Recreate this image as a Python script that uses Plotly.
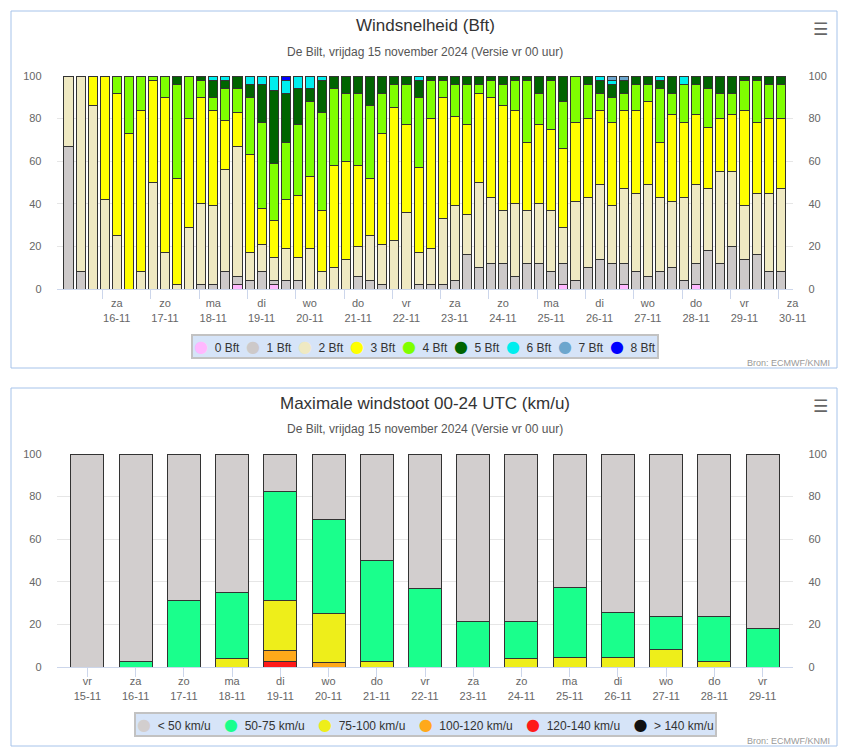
import pandas as pd
import plotly.graph_objects as go

# Pixel canvas of the page
W, H = 844, 753
FONT = "Liberation Sans, Arial, sans-serif"


def fx(px):
    return px / W


def fy(py):
    return 1 - py / H


def esc(s):
    return s.replace("<", "&lt;").replace(">", "&gt;")


# ---- Windsnelheid (Bft): ensemble kansen per 6 uur (%) ----
bar_times = pd.date_range("2024-11-15 07:00", periods=60, freq="6h")

bft_names = ["0 Bft", "1 Bft", "2 Bft", "3 Bft", "4 Bft", "5 Bft", "6 Bft", "7 Bft", "8 Bft"]
bft_colors = ["#ffb8ff", "#cdc9c9", "#efe9c2", "#ffff00", "#7fff00", "#006400", "#00eeee", "#6ca6cd", "#0000ff"]

bft0 = [0, 0, 0, 0, 0, 0, 0, 0, 0, 0, 0, 0, 0, 0, 2, 0, 0, 2, 0, 0,
        0, 0, 0, 0, 0, 0, 0, 0, 0, 0, 0, 0, 0, 0, 0, 0, 0, 0, 0, 0,
        0, 2, 0, 0, 0, 0, 2, 0, 0, 0, 0, 0, 2, 0, 0, 0, 0, 0, 0, 0]
bft1 = [67, 8, 0, 0, 0, 0, 0, 0, 0, 0, 0, 2, 2, 8, 4, 4, 8, 2, 4, 4,
        0, 0, 0, 0, 6, 4, 2, 0, 0, 2, 2, 2, 4, 16, 10, 12, 12, 6, 12, 12,
        8, 10, 4, 10, 14, 12, 10, 8, 6, 8, 10, 4, 10, 18, 12, 20, 14, 16, 8, 8]
bft2 = [33, 92, 86, 42, 25, 0, 8, 50, 17, 2, 29, 38, 37, 48, 61, 13, 13, 11, 15, 11,
        19, 8, 10, 14, 14, 21, 19, 23, 36, 15, 17, 31, 35, 19, 40, 31, 25, 34, 25, 28,
        29, 17, 37, 33, 35, 27, 35, 37, 43, 35, 31, 39, 37, 29, 43, 35, 25, 29, 37, 39]
bft3 = [0, 0, 14, 58, 67, 73, 76, 48, 73, 50, 51, 50, 45, 23, 16, 46, 17, 17, 23, 29,
        34, 29, 48, 46, 38, 27, 52, 62, 41, 40, 61, 57, 42, 42, 42, 47, 49, 44, 32, 37,
        38, 37, 37, 37, 35, 39, 37, 39, 39, 26, 41, 35, 33, 29, 25, 27, 45, 33, 35, 33]
bft4 = [0, 0, 0, 0, 8, 27, 16, 2, 10, 44, 20, 8, 6, 15, 11, 27, 40, 27, 27, 33,
        35, 46, 36, 32, 34, 34, 19, 11, 19, 33, 18, 8, 15, 19, 4, 8, 10, 14, 29, 15,
        23, 22, 22, 16, 8, 12, 8, 12, 8, 25, 10, 18, 14, 18, 12, 10, 14, 20, 16, 16]
bft5 = [0, 0, 0, 0, 0, 0, 0, 0, 0, 4, 0, 2, 8, 4, 6, 6, 18, 34, 23, 17,
        6, 15, 6, 8, 8, 14, 8, 4, 4, 8, 2, 2, 4, 4, 4, 2, 4, 2, 2, 8,
        2, 12, 0, 4, 6, 6, 6, 4, 4, 4, 8, 0, 4, 6, 8, 8, 2, 2, 4, 4]
bft6 = [0, 0, 0, 0, 0, 0, 0, 0, 0, 0, 0, 0, 2, 2, 0, 4, 4, 7, 6, 6,
        6, 2, 0, 0, 0, 0, 0, 0, 0, 2, 0, 0, 0, 0, 0, 0, 0, 0, 0, 0,
        0, 0, 0, 0, 2, 2, 0, 0, 0, 2, 0, 4, 0, 0, 0, 0, 0, 0, 0, 0]
bft7 = [0, 0, 0, 0, 0, 0, 0, 0, 0, 0, 0, 0, 0, 0, 0, 0, 0, 0, 0, 0,
        0, 0, 0, 0, 0, 0, 0, 0, 0, 0, 0, 0, 0, 0, 0, 0, 0, 0, 0, 0,
        0, 0, 0, 0, 0, 2, 2, 0, 0, 0, 0, 0, 0, 0, 0, 0, 0, 0, 0, 0]
bft8 = [0, 0, 0, 0, 0, 0, 0, 0, 0, 0, 0, 0, 0, 0, 0, 0, 0, 0, 2, 0,
        0, 0, 0, 0, 0, 0, 0, 0, 0, 0, 0, 0, 0, 0, 0, 0, 0, 0, 0, 0,
        0, 0, 0, 0, 0, 0, 0, 0, 0, 0, 0, 0, 0, 0, 0, 0, 0, 0, 0, 0]
bft_series = [bft0, bft1, bft2, bft3, bft4, bft5, bft6, bft7, bft8]

top_tick_dates = ["2024-11-%02d" % d for d in range(16, 31)]
top_tick_days = ["za", "zo", "ma", "di", "wo", "do", "vr", "za", "zo", "ma", "di", "wo", "do", "vr", "za"]

# ---- Maximale windstoot 00-24 UTC: kans per dag (%) ----
gust_dates = ["2024-11-%02d" % d for d in range(15, 30)]
gust_days = ["vr", "za", "zo", "ma", "di", "wo", "do", "vr", "za", "zo", "ma", "di", "wo", "do", "vr"]

gust_names = ["< 50 km/u", "50-75 km/u", "75-100 km/u", "100-120 km/u", "120-140 km/u", "> 140 km/u"]
gust_colors = ["#d2cece", "#1aff8c", "#eeee1a", "#ffa91a", "#ff1a1a", "#111111"]

g_lt50 = [100, 97.5, 69, 65.2, 17.4, 30.9, 49.8, 63.3, 78.8, 78.8, 62.5, 74.5, 76.2, 76.2, 82.1]
g_50_75 = [0, 2.5, 31, 30.9, 51.6, 44.1, 47.7, 36.7, 21.2, 17.3, 33.1, 21.1, 15.6, 21.4, 17.9]
g_75_100 = [0, 0, 0, 3.9, 23.3, 22.8, 2.5, 0, 0, 3.9, 4.4, 4.4, 8.2, 2.4, 0]
g_100_120 = [0, 0, 0, 0, 5.3, 2.2, 0, 0, 0, 0, 0, 0, 0, 0, 0]
g_120_140 = [0, 0, 0, 0, 2.4, 0, 0, 0, 0, 0, 0, 0, 0, 0, 0]
g_gt140 = [0, 0, 0, 0, 0, 0, 0, 0, 0, 0, 0, 0, 0, 0, 0]
gust_series = [g_lt50, g_50_75, g_75_100, g_100_120, g_120_140, g_gt140]

y_ticks = [0, 20, 40, 60, 80, 100]

# Pixel layout of the two panels
PLOT_L, PLOT_R = 56.7, 793.3
TOP_Y0, TOP_Y1 = 289, 76        # value 0 / 100
BOT_Y0, BOT_Y1 = 667, 454
BOX_L, BOX_R = 11, 837
BOX_TOP = (11, 368)
BOX_BOT = (388, 746)

fig = go.Figure()


def nz(vals):
    return [v if v else None for v in vals]


# top chart: stacked from 0 Bft (bottom) up to 8 Bft
for name, vals, color in zip(bft_names, bft_series, bft_colors):
    fig.add_trace(go.Bar(x=bar_times, y=nz(vals), name=name, showlegend=False,
                         width=4.5 * 3600 * 1000,
                         marker=dict(color=color, line=dict(color="#333333", width=1)),
                         xaxis="x", yaxis="y",
                         hovertemplate="%{x|%d-%m %H:%M}<br>" + name + ": %{y}%<extra></extra>"))

# bottom chart: stacked from > 140 km/u (bottom) up to < 50 km/u
for name, vals, color in reversed(list(zip(gust_names, gust_series, gust_colors))):
    fig.add_trace(go.Bar(x=gust_dates, y=nz(vals), name=esc(name), showlegend=False,
                         width=0.684,
                         marker=dict(color=color, line=dict(color="#333333", width=1)),
                         xaxis="x2", yaxis="y2",
                         hovertemplate="%{x}<br>" + esc(name) + ": %{y}%<extra></extra>"))

# empty traces so the right-hand value axes are drawn
fig.add_trace(go.Scatter(x=[], y=[], xaxis="x", yaxis="y3", showlegend=False, hoverinfo="skip"))
fig.add_trace(go.Scatter(x=[], y=[], xaxis="x2", yaxis="y4", showlegend=False, hoverinfo="skip"))

tick_font = dict(family=FONT, size=11, color="#666666")
yax = dict(range=[0, 100], tickvals=y_ticks, showgrid=True, gridcolor="#e6e6e6", zeroline=False,
           ticks="outside", ticklen=12, tickcolor="rgba(0,0,0,0)", tickfont=tick_font,
           fixedrange=True, automargin=False)
yax_right = dict(range=[0, 100], tickvals=y_ticks, showgrid=False, zeroline=False, side="right",
                 ticks="outside", ticklen=12, tickcolor="rgba(0,0,0,0)", tickfont=tick_font,
                 fixedrange=True, automargin=False)
xax = dict(showgrid=False, showline=True, linecolor="#ccd6eb", linewidth=1, ticks="outside",
           ticklen=9, tickcolor="#ccd6eb", tickfont=tick_font, ticklabelstandoff=-5,
           fixedrange=True, automargin=False)

fig.update_layout(
    width=W, height=H, margin=dict(l=0, r=0, t=0, b=0, autoexpand=False),
    paper_bgcolor="white", plot_bgcolor="white",
    barmode="stack", showlegend=False,
    font=dict(family=FONT, color="#333333"),
    xaxis=dict(xax, domain=[fx(PLOT_L), fx(PLOT_R)], anchor="y", type="date",
               range=["2024-11-15 01:08", "2024-11-30 07:16"],
               tickvals=top_tick_dates,
               ticktext=[d + "<br>" + t[8:10] + "-" + t[5:7] for d, t in zip(top_tick_days, top_tick_dates)],
               ticklabelshift=14),
    yaxis=dict(yax, domain=[fy(TOP_Y0), fy(TOP_Y1)], anchor="x"),
    yaxis3=dict(yax_right, overlaying="y", anchor="x"),
    xaxis2=dict(xax, domain=[fx(PLOT_L), fx(PLOT_R)], anchor="y2", type="category",
                range=[-0.636, 14.636], tickvals=gust_dates,
                ticktext=[d + "<br>" + t[8:10] + "-" + t[5:7] for d, t in zip(gust_days, gust_dates)]),
    yaxis2=dict(yax, domain=[fy(BOT_Y0), fy(BOT_Y1)], anchor="x2"),
    yaxis4=dict(yax_right, overlaying="y2", anchor="x2"),
)

# panel frames
for y0, y1 in (BOX_TOP, BOX_BOT):
    fig.add_shape(type="rect", xref="paper", yref="paper",
                  x0=fx(BOX_L), x1=fx(BOX_R), y0=fy(y1), y1=fy(y0),
                  line=dict(color="#a6c3ea", width=1), fillcolor="rgba(0,0,0,0)", layer="below")

subtitle = "De Bilt, vrijdag 15 november 2024 (Versie vr 00 uur)"
for box_top, title in ((BOX_TOP[0], "Windsnelheid (Bft)"), (BOX_BOT[0], "Maximale windstoot 00-24 UTC (km/u)")):
    fig.add_annotation(text=title, xref="paper", yref="paper", x=fx(425), y=fy(box_top + 15),
                       xanchor="center", yanchor="middle", showarrow=False,
                       font=dict(family=FONT, size=17, color="#333333"))
    fig.add_annotation(text=subtitle, xref="paper", yref="paper", x=fx(425), y=fy(box_top + 41),
                       xanchor="center", yanchor="middle", showarrow=False,
                       font=dict(family=FONT, size=12, color="#555555"))
    fig.add_annotation(text="<b>\u2630</b>", xref="paper", yref="paper", x=fx(820), y=fy(box_top + 18),
                       xanchor="center", yanchor="middle", showarrow=False,
                       font=dict(family="DejaVu Sans", size=17, color="#666666"))
for box_bottom in (BOX_TOP[1], BOX_BOT[1]):
    fig.add_annotation(text="Bron: ECMWF/KNMI", xref="paper", yref="paper", x=fx(832), y=fy(box_bottom - 5),
                       xanchor="right", yanchor="middle", showarrow=False,
                       font=dict(family=FONT, size=9, color="#999999"))


# legends in the chart's own style: coloured dot + label, in a light-blue box
def legend_text(names, colors, gap):
    items = ["<span style='color:%s;font-family:DejaVu Sans;font-size:16px'>\u25cf</span>\u00a0\u00a0%s"
             % (c, esc(n)) for n, c in zip(names, colors)]
    return ("\u00a0" * gap).join(items)


for names, colors, cy, gap in ((bft_names, bft_colors, 346, 2), (gust_names, gust_colors, 724, 4)):
    fig.add_annotation(text=legend_text(names, colors, gap), xref="paper", yref="paper",
                       x=fx(425), y=fy(cy), xanchor="center", yanchor="middle", showarrow=False,
                       font=dict(family=FONT, size=12, color="#333333"),
                       bgcolor="#d6e4f8", bordercolor="#c2c2c2", borderwidth=2, borderpad=1)

fig.write_html("out.html", config={"displayModeBar": False},
               post_script="document.body.style.margin='0';")
